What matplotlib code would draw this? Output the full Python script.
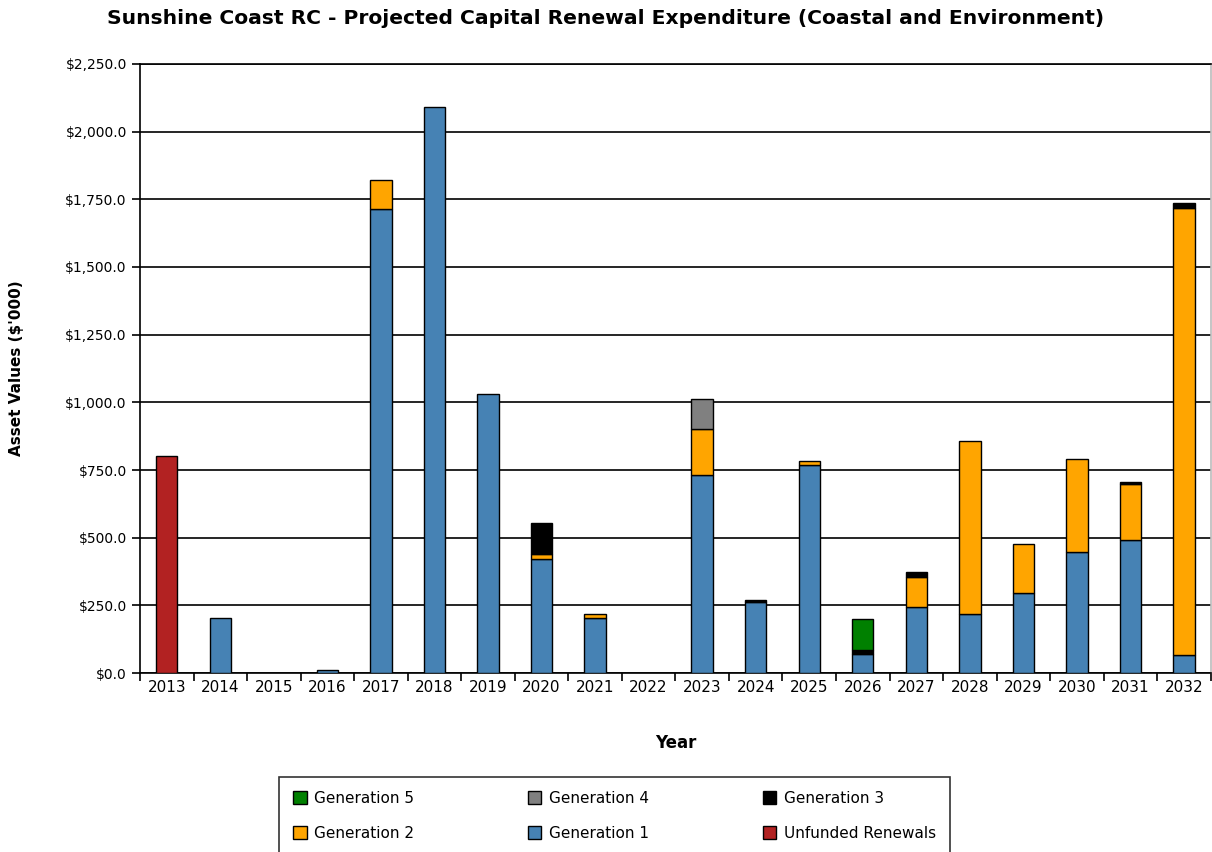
import numpy as np
import matplotlib.pyplot as plt
from matplotlib.patches import Patch

# data ($'000)
years = [str(y) for y in range(2013, 2033)]
unfunded = [800, 0, 0, 0, 0, 0, 0, 0, 0, 0, 0, 0, 0, 0, 0, 0, 0, 0, 0, 0]
gen1 = [0, 205, 0, 12, 1713, 2090, 1030, 420, 205, 0, 730, 263, 770, 71, 243, 217, 297, 448, 493, 67]
gen2 = [0, 0, 0, 0, 110, 0, 0, 18, 13, 0, 170, 0, 14, 0, 111, 639, 178, 341, 204, 1650]
gen3 = [0, 0, 0, 0, 0, 0, 0, 117, 0, 0, 0, 8, 0, 16, 21, 0, 0, 0, 7, 20]
gen4 = [0, 0, 0, 0, 0, 0, 0, 0, 0, 0, 113, 0, 0, 0, 0, 0, 0, 0, 0, 0]
gen5 = [0, 0, 0, 0, 0, 0, 0, 0, 0, 0, 0, 0, 0, 111, 0, 0, 0, 0, 0, 0]

series = [
    ("Unfunded Renewals", unfunded, "#B22222"),
    ("Generation 1", gen1, "#4682B4"),
    ("Generation 2", gen2, "#FFA500"),
    ("Generation 3", gen3, "#000000"),
    ("Generation 4", gen4, "#808080"),
    ("Generation 5", gen5, "#008000"),
]

fig = plt.figure(figsize=(12.12, 8.52), dpi=100)
ax = fig.add_axes([0.1155, 0.210, 0.8835, 0.715])

x = np.arange(len(years))
bottom = np.zeros(len(years))
for name, vals, col in series:
    vals = np.array(vals, dtype=float)
    keep = vals > 0  # skip empty segments so no stray edge lines are drawn
    ax.bar(x[keep], vals[keep], width=0.4, bottom=bottom[keep], color=col,
           edgecolor="black", linewidth=1.0, zorder=3)
    bottom += vals

ax.set_xlim(-0.5, len(years) - 0.5)
ax.set_ylim(0, 2250)
ax.set_yticks(np.arange(0, 2251, 250))
ax.set_yticklabels(["${:,.1f}".format(v) for v in np.arange(0, 2251, 250)], fontsize=10)
ax.grid(axis="y", color="black", linewidth=1.2, zorder=1)

# ticks between categories, labels centred on bars
ax.set_xticks(np.arange(-0.5, len(years), 1.0))
ax.set_xticklabels([])
ax.set_xticks(x, minor=True)
ax.set_xticklabels(years, minor=True, fontsize=11)
ax.tick_params(axis="x", which="minor", length=0, pad=5)
ax.tick_params(axis="x", which="major", length=6, width=1.2, direction="out")
ax.tick_params(axis="y", length=6, width=1.2, direction="out")
for s in ax.spines.values():
    s.set_linewidth(1.2)
ax.spines["right"].set_color("#bbbbbb")

ax.set_xlabel("Year", fontsize=12, fontweight="bold", labelpad=28)
ax.set_ylabel("Asset Values ($'000)", fontsize=11, fontweight="bold", labelpad=30)
fig.suptitle("Sunshine Coast RC - Projected Capital Renewal Expenditure (Coastal and Environment)",
             fontsize=14.6, fontweight="bold", x=0.5, y=0.99)

lookup = {n: c for n, _, c in series}
order = ["Generation 5", "Generation 2", "Generation 4", "Generation 1",
         "Generation 3", "Unfunded Renewals"]
handles = [Patch(facecolor=lookup[n], edgecolor="black", label=n) for n in order]
leg = fig.legend(handles=handles, ncol=3, loc="lower left",
                 bbox_to_anchor=(0.224, -0.012, 0.566, 0.118), mode="expand",
                 fontsize=11, frameon=True, fancybox=False, edgecolor="black",
                 handlelength=0.9, handleheight=0.9, handletextpad=0.5,
                 labelspacing=1.3, borderpad=0.9, columnspacing=1.0)
leg.get_frame().set_linewidth(1.2)

fig.savefig("out.png", dpi=100)
